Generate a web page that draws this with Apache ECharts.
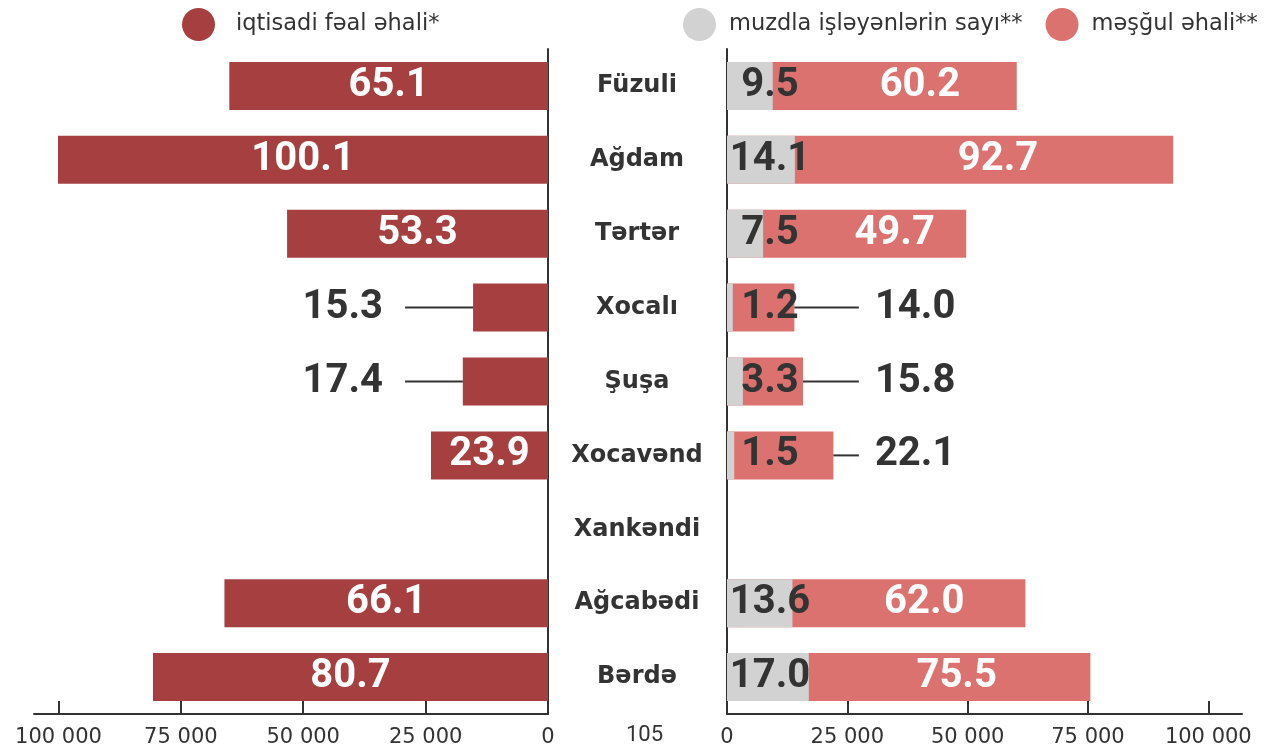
<!DOCTYPE html>
<html>
<head>
    <meta charset="utf-8">
    <script src="https://cdn.jsdelivr.net/npm/echarts@6/dist/echarts.min.js"></script>
    <style>
        html, body { margin: 0; padding: 0; background: #fff; }
    </style>
</head>
<body>
<div id="main" style="width: 1271px;height:748px;"></div>
<script type="text/javascript">
    // data, in thousands of people
    var categories = ['Füzuli', 'Ağdam', 'Tərtər', 'Xocalı', 'Şuşa', 'Xocavənd', 'Xankəndi', 'Ağcabədi', 'Bərdə'];
    var iqtisadiFeal = [65.1, 100.1, 53.3, 15.3, 17.4, 23.9, null, 66.1, 80.7];
    var muzdla = [9.5, 14.1, 7.5, 1.2, 3.3, 1.5, null, 13.6, 17.0];
    var mesgul = [60.2, 92.7, 49.7, 14.0, 15.8, 22.1, null, 62.0, 75.5];
    var tickValues = [0, 25, 50, 75, 100];
    var tickLabels = ['0', '25 000', '50 000', '75 000', '100 000'];

    var DARK = '#333333';
    var RED = '#a53f40';
    var PINK = '#dc7270';
    var GRAY = '#d2d2d2';
    var BIG = {fontFamily: 'Roboto', fontWeight: 'bold', fontSize: 40};

    // layout of the two halves
    var leftX = 34, leftW = 514, leftMax = 105;
    var rightX = 727, rightW = 515, rightMax = 107;
    var gridTop = 49, gridBottom = 748 - 714;

    function fmt(v) { return v.toFixed(1); }

    // small bars get their number outside, joined by a short line
    function outsideLeft(v) {
        var len = (29.2 - v) * leftW / leftMax;
        return {
            position: 'left', distance: 0, offset: [0, 0],
            formatter: '{v|' + fmt(v) + '}{l|}',
            rich: {
                v: Object.assign({color: DARK, padding: [0, 22, 0, 0]}, BIG),
                l: {width: len, height: 2, backgroundColor: DARK}
            }
        };
    }
    function outsideRight(v) {
        var len = (27.4 - v) * rightW / rightMax;
        return {
            position: 'right', distance: 0, offset: [0, 0],
            formatter: '{l|}{v|' + fmt(v) + '}',
            rich: {
                v: Object.assign({color: DARK, padding: [0, 0, 0, 16]}, BIG),
                l: {width: len, height: 2, backgroundColor: DARK}
            }
        };
    }

    var leftData = iqtisadiFeal.map(function (v) {
        if (v == null) return '-';
        return v < 20 ? {value: v, label: outsideLeft(v)} : v;
    });
    var pinkData = mesgul.map(function (v) {
        if (v == null) return '-';
        return v < 30 ? {value: v, label: outsideRight(v)} : v;
    });
    var grayData = muzdla.map(function (v) { return v == null ? '-' : v; });

    function axisX(gridIndex, max, inverse) {
        return {
            type: 'value', gridIndex: gridIndex, min: 0, max: max, inverse: inverse,
            splitLine: {show: false},
            axisLine: {show: true, lineStyle: {color: DARK, width: 2}},
            axisTick: {show: true, inside: true, length: 13, customValues: tickValues,
                lineStyle: {color: DARK, width: 2}},
            axisLabel: {
                customValues: tickValues, margin: 13,
                color: DARK, fontFamily: 'DejaVu Sans', fontSize: 21,
                formatter: function (v) { return tickLabels[tickValues.indexOf(v)]; }
            }
        };
    }

    var legendText = {color: DARK, fontFamily: 'DejaVu Sans', fontSize: 22.5};

    var myChart = echarts.init(document.getElementById('main'));

    var option = {
        animation: false,
        backgroundColor: '#fff',
        legend: [{
            left: 177, top: 3, itemWidth: 33, itemHeight: 33, icon: 'circle',
            data: ['iqtisadi fəal əhali*'],
            textStyle: Object.assign({padding: [0, 0, 0, 16]}, legendText)
        }, {
            left: 678, top: 3, itemWidth: 33, itemHeight: 33, icon: 'circle', itemGap: 23,
            data: ['muzdla işləyənlərin sayı**', 'məşğul əhali**'],
            textStyle: Object.assign({padding: [0, 0, 0, 8]}, legendText)
        }],
        grid: [
            {left: leftX, width: leftW, top: gridTop, bottom: gridBottom},
            {left: rightX, width: rightW, top: gridTop, bottom: gridBottom}
        ],
        xAxis: [axisX(0, leftMax, true), axisX(1, rightMax, false)],
        yAxis: [{
            type: 'category', gridIndex: 0, data: categories, inverse: true, position: 'right',
            axisLine: {show: true, onZero: false, lineStyle: {color: DARK, width: 2}},
            axisTick: {show: false},
            axisLabel: {margin: 89, align: 'center', padding: [0, 0, 10, 0], color: DARK,
                fontFamily: 'DejaVu Sans', fontWeight: 'bold', fontSize: 24}
        }, {
            type: 'category', gridIndex: 1, data: categories, inverse: true, position: 'left',
            axisLine: {show: true, onZero: false, lineStyle: {color: DARK, width: 2}},
            axisTick: {show: false},
            axisLabel: {show: false}
        }],
        series: [{
            name: 'iqtisadi fəal əhali*', type: 'bar', xAxisIndex: 0, yAxisIndex: 0,
            data: leftData, barWidth: 48, itemStyle: {color: RED},
            label: Object.assign({show: true, position: 'inside', color: '#fff',
                formatter: function (p) { return fmt(p.value); }}, BIG)
        }, {
            name: 'məşğul əhali**', type: 'bar', xAxisIndex: 1, yAxisIndex: 1,
            data: pinkData, barWidth: 48, barGap: '-100%', itemStyle: {color: PINK},
            label: Object.assign({show: true, position: 'inside', offset: [48, 0], color: '#fff',
                formatter: function (p) { return fmt(p.value); }}, BIG)
        }, {
            name: 'muzdla işləyənlərin sayı**', type: 'bar', xAxisIndex: 1, yAxisIndex: 1,
            data: grayData, barWidth: 48, barGap: '-100%', itemStyle: {color: GRAY},
            label: Object.assign({show: true, position: [43, '50%'], align: 'center',
                verticalAlign: 'middle', color: DARK,
                formatter: function (p) { return fmt(p.value); }}, BIG)
        }],
        graphic: [{
            type: 'text', left: 626, top: 724,
            style: {text: '105', fill: DARK, font: '22px Roboto'}
        }]
    };

    myChart.setOption(option);
</script>
</body>
</html>
